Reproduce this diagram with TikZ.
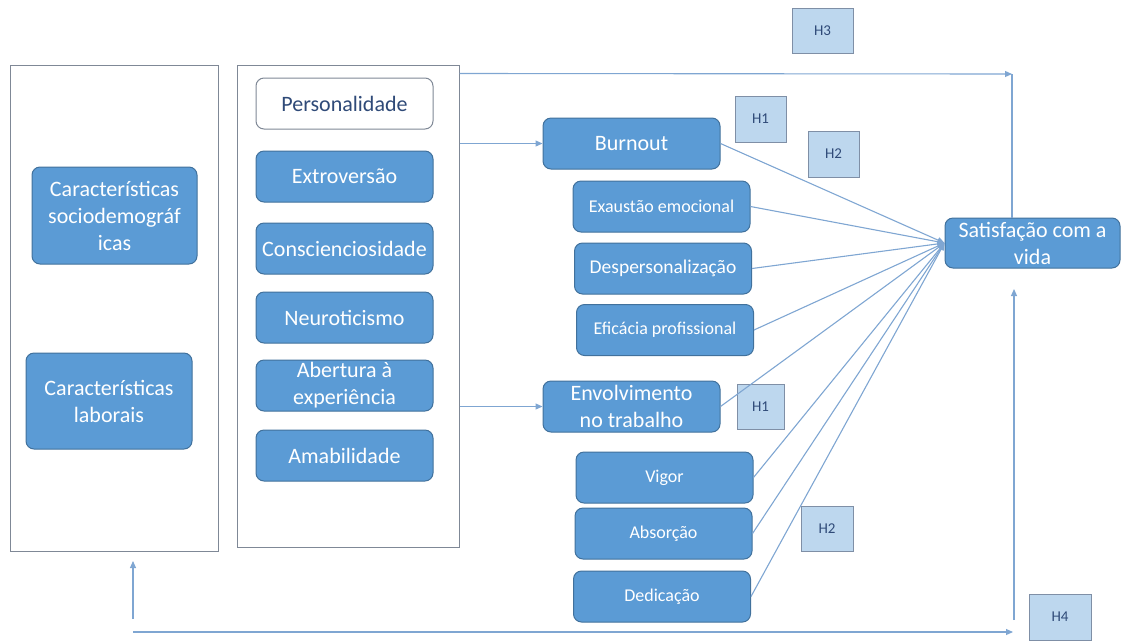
\documentclass[tikz,border=0pt]{standalone}
\usepackage{fontspec}
\setmainfont{Carlito}
\usepackage{tikz}
\usetikzlibrary{positioning}
\usetikzlibrary{arrows.meta}

\definecolor{boxblue}{HTML}{5B9BD5}
\definecolor{boxline}{HTML}{41719C}
\definecolor{hfill}{HTML}{BDD7EE}
\definecolor{hline}{HTML}{7F8FA6}
\definecolor{linkcol}{HTML}{7FA6D2}
\definecolor{framecol}{HTML}{7F8896}
\definecolor{perstext}{HTML}{2F4A78}

\newcommand{\labtxt}{\fontsize{22}{27}\selectfont}
\newcommand{\subtxt}{\fontsize{18}{22}\selectfont}
\newcommand{\htxt}{\fontsize{15}{18}\selectfont}

\begin{document}
\begin{tikzpicture}[x=1pt,y=-1pt,
  box/.style={draw=boxline,fill=boxblue,line width=1pt,rounded corners=8pt,text=white,align=center,inner sep=0pt,minimum width=177pt,minimum height=51pt,font=\labtxt},
  subbox/.style={box,font=\subtxt},
  hbox/.style={draw=hline,fill=hfill,line width=1pt,text=perstext,font=\htxt,inner sep=0pt,minimum width=51pt,minimum height=46pt},
  outerframe/.style={draw=framecol,line width=1pt,inner sep=0pt},
  link/.style={draw=linkcol,line width=1.1pt,-{Triangle[length=7pt,width=6pt]}}]

  \useasboundingbox (0,0) rectangle (1121,641);

  \node[outerframe,minimum width=208pt,minimum height=486pt] (socframe) at (114,308) {};
  \node[outerframe,minimum width=222pt,minimum height=482pt] (persframe) at (348,306) {};

  \node[box,minimum width=165pt,minimum height=97pt] (socio) at (114.5,215.5) {Características\\sociodemográf\\icas};
  \node[box,minimum width=166pt,minimum height=96pt] (labor) at (109,401) {Características\\laborais};

  \node[box,fill=white,draw=framecol,text=perstext] (pers) at (344.5,103.5) {Personalidade};
  \node[box] (extro) at (344.5,176.5) {Extroversão};
  \node[box] (consc) at (344.5,248.5) {Conscienciosidade};
  \node[box] (neuro) at (344.5,317.5) {Neuroticismo};
  \node[box] (abert) at (344.5,385.5) {Abertura à\\experiência};
  \node[box] (amab) at (344.5,455.5) {Amabilidade};

  \node[box] (burn) at (631.5,143.5) {Burnout};
  \node[subbox] (exaust) at (661.5,206.5) {Exaustão emocional};
  \node[subbox,font=\fontsize{19.5}{23}\selectfont] (desp) at (663,268.5) {Despersonalização};
  \node[subbox] (efic) at (665,330) {Eficácia profissional};
  \node[box] (envol) at (631.5,406.5) {Envolvimento\\no trabalho};
  \node[subbox] (vigor) at (664.5,477.5) {Vigor};
  \node[subbox] (absor) at (663.5,533.5) {Absorção};
  \node[subbox] (dedic) at (662,596.5) {Dedicação};

  \node[box,minimum width=175pt,minimum height=50pt] (satisf) at (1032.5,243) {Satisfação com a\\vida};

  \node[hbox,minimum width=61pt,minimum height=45pt] (hthree) at (822.5,30.5) {H3};
  \node[hbox] (honetop) at (760.5,119) {H1};
  \node[hbox] (htwotop) at (833.5,154) {H2};
  \node[hbox,minimum width=47pt,minimum height=45pt] (honebot) at (760.5,406.5) {H1};
  \node[hbox,minimum width=52pt,minimum height=45pt] (htwobot) at (827,528.5) {H2};
  \node[hbox,minimum width=62pt] (hfour) at (1060,617) {H4};

  \coordinate (hcorner) at (1012,74);
  \draw[link] ([yshift=-9pt]persframe.north east) -- (hcorner);
  \draw[draw=linkcol,line width=1.1pt] (hcorner) -- (hcorner |- satisf.north);

  \draw[link] (persframe.east |- burn.west) -- (burn.west);
  \draw[link] (persframe.east |- envol.west) -- (envol.west);

  \foreach \src in {burn,exaust,desp,efic,envol,vigor,absor,dedic}
    \draw[link] (\src.east) -- (satisf.west);

  \coordinate (botleft) at (133,632);
  \coordinate (botright) at (1013,632);
  \coordinate (socfoot) at (133,619);
  \coordinate (socup) at (133,561);
  \coordinate (satfoot) at (1014,620);
  \coordinate (satup) at (1014,289);
  \draw[link] (botleft) -- (botright);
  \draw[link] (socfoot) -- (socup);
  \draw[link] (satfoot) -- (satup);
\end{tikzpicture}
\end{document}
